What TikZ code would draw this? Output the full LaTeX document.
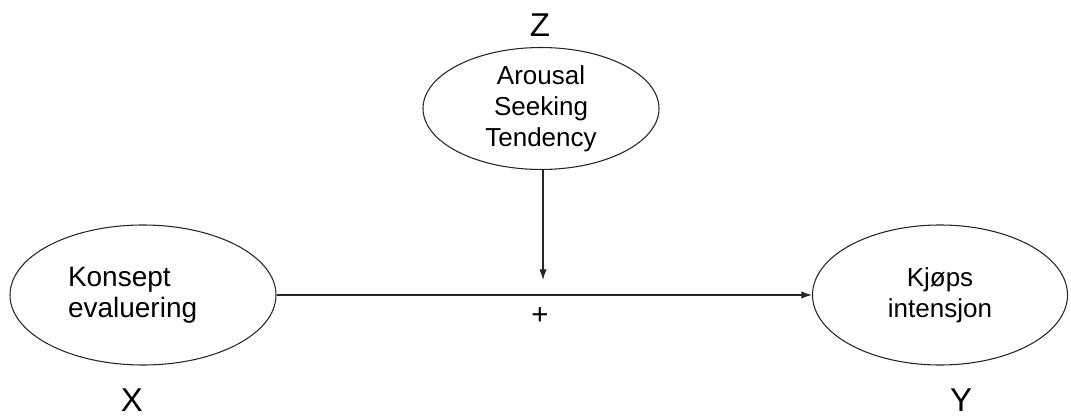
\documentclass[tikz,border=0pt]{standalone}
\usepackage{fontspec}
\setmainfont{Liberation Sans}
\usetikzlibrary{shapes.geometric,arrows.meta}
\begin{document}
\begin{tikzpicture}[x=0.75pt,y=-0.75pt,
  oval/.style={draw=black!85, line width=0.8pt, ellipse, inner sep=0pt, font=\fontsize{19.5}{23.25}\selectfont},
  lbl/.style={font=\fontsize{24.75}{28}\selectfont, inner sep=0pt},
  conn/.style={draw=black!85, line width=0.8pt, -{Latex[length=8pt,width=5.5pt]}}]
\useasboundingbox (0,0) rectangle (1071,417);
\node[oval, minimum width=199.5pt, minimum height=105pt, text width=112.5pt, align=left, font=\fontsize{21}{23}\selectfont] (kon) at (143,295) {Konsept\\evaluering};
\node[oval, minimum width=191.25pt, minimum height=105pt, align=center] (kjo) at (940,295) {Kjøps\\intensjon};
\node[oval, minimum width=177pt, minimum height=84.75pt, align=center] (aro) at (541,108.5) {Arousal\\Seeking\\Tendency};
\node[lbl] (zl) at (540,25) {Z};
\node[lbl] (xl) at (132,400) {X};
\node[lbl] (yl) at (961,400) {Y};
\node[inner sep=0pt, font=\fontsize{22}{24}\selectfont] (plus) at (540,316) {+};
\coordinate (m) at (543,280);
\draw[conn] (aro.south -| m) -- (m);
\draw[conn] (kon.east) -- (kjo.west);
\end{tikzpicture}
\end{document}
